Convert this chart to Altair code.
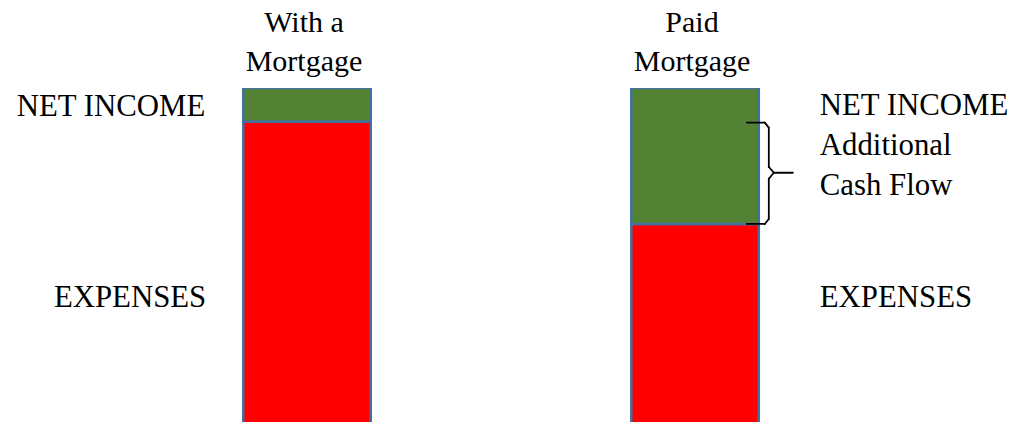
import altair as alt
import pandas as pd

# ---- data ----
categories = ["With a Mortgage", "Paid Mortgage"]
top_labels = ["With a\nMortgage", "Paid\nMortgage"]
expenses = [90, 59.5]
net_income = [10, 40.5]
segments = ["EXPENSES", "NET INCOME"]
segment_colors = ["#FF0000", "#548235"]
left_labels = ["NET INCOME", "EXPENSES"]
right_labels = ["NET INCOME\nAdditional\nCash Flow", "EXPENSES"]

FONT = "Liberation Serif"
FS = 30
FS_SIDE = 30.8

rows = []
for c, e, n in zip(categories, expenses, net_income):
    rows.append({"cat": c, "segment": "EXPENSES", "value": e, "order": 0})
    rows.append({"cat": c, "segment": "NET INCOME", "value": n, "order": 1})
bars_df = pd.DataFrame(rows)

totals = [e + n for e, n in zip(expenses, net_income)]
top_df = pd.DataFrame({"cat": categories, "text": top_labels, "total": totals})

net_mid = expenses[0] + net_income[0] / 2
exp_mid = expenses[0] / 2
left_df = pd.DataFrame({"cat": [categories[0]] * 2, "text": left_labels, "yv": [net_mid, exp_mid]})
right_df = pd.DataFrame({"cat": [categories[1]] * 2, "text": right_labels, "yv": [net_mid, exp_mid]})

brace_df = pd.DataFrame({
    "cat": [categories[1]],
    "ytop": [expenses[0]],
    "ybot": [expenses[1]],
})
brace_df["ymid"] = (brace_df["ytop"] + brace_df["ybot"]) / 2

x_scale = alt.Scale(domain=categories, paddingInner=0.6714, paddingOuter=0.659, align=0.4756)
y_scale = alt.Scale(domain=[0.5, 100], zero=False, nice=False)

bars = alt.Chart(bars_df).mark_bar(stroke="#41719C", strokeWidth=2.5, clip=True).encode(
    x=alt.X("cat:N", scale=x_scale, axis=None),
    y=alt.Y("value:Q", stack="zero", scale=y_scale, axis=None),
    color=alt.Color("segment:N", scale=alt.Scale(domain=segments, range=segment_colors), legend=None),
    order=alt.Order("order:Q"),
)

text_kw = dict(font=FONT, color="black", lineBreak="\n")

top_text = alt.Chart(top_df).mark_text(align="center", baseline="alphabetic", dx=-3, dy=-56, lineHeight=39, fontSize=FS, **text_kw).encode(
    x=alt.X("cat:N"), y=alt.Y("total:Q"), text="text:N"
)

left_text_net = alt.Chart(left_df.iloc[[0]]).mark_text(align="right", baseline="alphabetic", dx=-38, dy=11, fontSize=FS_SIDE, **text_kw).encode(
    x=alt.X("cat:N", bandPosition=0), y=alt.Y("yv:Q"), text="text:N"
)
left_text_exp = alt.Chart(left_df.iloc[[1]]).mark_text(align="right", baseline="alphabetic", dx=-37, dy=34, fontSize=FS_SIDE, **text_kw).encode(
    x=alt.X("cat:N", bandPosition=0), y=alt.Y("yv:Q"), text="text:N"
)
right_text_net = alt.Chart(right_df.iloc[[0]]).mark_text(align="left", baseline="alphabetic", dx=61, dy=10, lineHeight=40, fontSize=FS_SIDE, **text_kw).encode(
    x=alt.X("cat:N", bandPosition=1), y=alt.Y("yv:Q"), text="text:N"
)
right_text_exp = alt.Chart(right_df.iloc[[1]]).mark_text(align="left", baseline="alphabetic", dx=61, dy=34, fontSize=FS_SIDE, **text_kw).encode(
    x=alt.X("cat:N", bandPosition=1), y=alt.Y("yv:Q"), text="text:N"
)

# curly brace built from rule segments anchored at the two boundaries
brace_segments = [
    ("ytop", "ytop", -12, 6, 1, 1),
    ("ytop", "ytop", 6, 10, 1, 6),
    ("ytop", "ymid", 10, 10, 6, -6),
    ("ymid", "ymid", 10, 15, -6, 0),
    ("ymid", "ymid", 15, 34, 0, 0),
    ("ymid", "ymid", 10, 15, 6, 0),
    ("ymid", "ybot", 10, 10, 6, -5),
    ("ybot", "ybot", 10, 6, -5, 0),
    ("ybot", "ybot", 6, -12, 0, 0),
]
brace_layers = []
for y1, y2, xo1, xo2, yo1, yo2 in brace_segments:
    brace_layers.append(
        alt.Chart(brace_df).mark_rule(
            color="black", strokeWidth=1.8, xOffset=xo1, x2Offset=xo2, yOffset=yo1, y2Offset=yo2,
            strokeCap="round",
        ).encode(
            x=alt.X("cat:N", bandPosition=1),
            x2=alt.X2("cat:N", bandPosition=1),
            y=alt.Y(f"{y1}:Q"),
            y2=alt.Y2(f"{y2}:Q"),
        )
    )

chart = alt.layer(
    bars, top_text, left_text_net, left_text_exp, right_text_net, right_text_exp, *brace_layers
).properties(
    width=1027,
    height=334,
    padding={"left": 0, "right": 0, "top": 88, "bottom": 0},
    autosize=alt.AutoSizeParams(type="none"),
    background="white",
).configure_view(stroke=None)

chart.save("out.html", embed_options={"renderer": "svg", "actions": False})
